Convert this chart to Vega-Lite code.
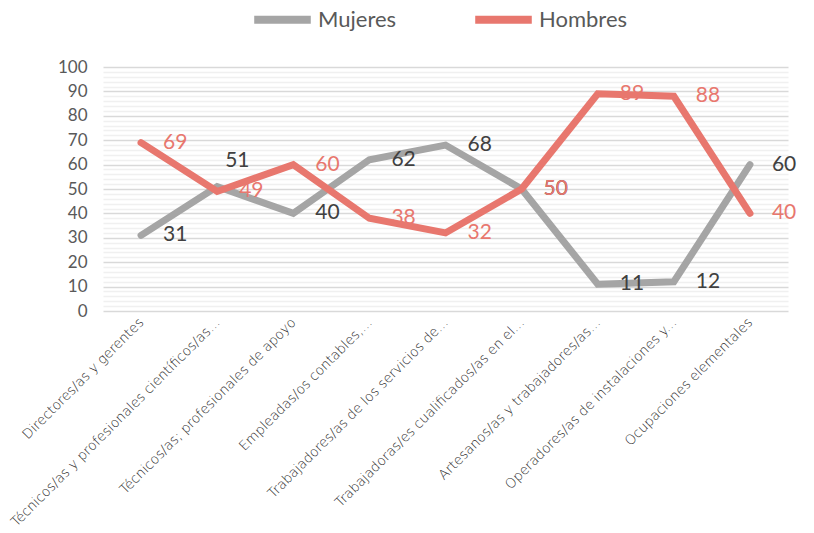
{
  "$schema": "https://vega.github.io/schema/vega-lite/v6.json",
  "width": 685,
  "height": 244,
  "autosize": {"type": "none"},
  "padding": {"left": 103, "top": 67, "right": 26, "bottom": 222},
  "background": "white",
  "config": {
    "view": {"stroke": null},
    "font": "Lato",
    "axis": {"labelFont": "Lato", "labelColor": "#595959"}
  },
  "data": {
    "values": [
      {"categoria": "Directores/as y gerentes", "sexo": "Mujeres", "valor": 31},
      {"categoria": "Técnicos/as  y profesionales científicos/as...", "sexo": "Mujeres", "valor": 51},
      {"categoria": "Técnicos/as; profesionales de apoyo", "sexo": "Mujeres", "valor": 40},
      {"categoria": "Empleadas/os contables,...", "sexo": "Mujeres", "valor": 62},
      {"categoria": "Trabajadores/as de los servicios de...", "sexo": "Mujeres", "valor": 68},
      {"categoria": "Trabajadoras/es cualificados/as en el...", "sexo": "Mujeres", "valor": 50},
      {"categoria": "Artesanos/as y trabajadores/as...", "sexo": "Mujeres", "valor": 11},
      {"categoria": "Operadores/as de instalaciones y...", "sexo": "Mujeres", "valor": 12},
      {"categoria": "Ocupaciones elementales", "sexo": "Mujeres", "valor": 60},
      {"categoria": "Directores/as y gerentes", "sexo": "Hombres", "valor": 69},
      {"categoria": "Técnicos/as  y profesionales científicos/as...", "sexo": "Hombres", "valor": 49},
      {"categoria": "Técnicos/as; profesionales de apoyo", "sexo": "Hombres", "valor": 60},
      {"categoria": "Empleadas/os contables,...", "sexo": "Hombres", "valor": 38},
      {"categoria": "Trabajadores/as de los servicios de...", "sexo": "Hombres", "valor": 32},
      {"categoria": "Trabajadoras/es cualificados/as en el...", "sexo": "Hombres", "valor": 50},
      {"categoria": "Artesanos/as y trabajadores/as...", "sexo": "Hombres", "valor": 89},
      {"categoria": "Operadores/as de instalaciones y...", "sexo": "Hombres", "valor": 88},
      {"categoria": "Ocupaciones elementales", "sexo": "Hombres", "valor": 40}
    ]
  },
  "encoding": {
    "x": {
      "field": "categoria",
      "type": "nominal",
      "sort": null,
      "scale": {"type": "point", "padding": 0.5},
      "axis": {
        "title": null,
        "labelAngle": -45,
        "labelAlign": "right",
        "labelBaseline": "middle",
        "labelFont": "DejaVu Sans",
        "labelFontWeight": 300,
        "labelFontSize": 13.5,
        "labelColor": "#2b2b2b",
        "labelLimit": 400,
        "labelPadding": 9,
        "ticks": false,
        "domain": false,
        "grid": false
      }
    },
    "y": {
      "field": "valor",
      "type": "quantitative",
      "scale": {"domain": [0, 100], "nice": false},
      "axis": {
        "title": null,
        "values": [0,2,4,6,8,10,12,14,16,18,20,22,24,26,28,30,32,34,36,38,40,42,44,46,48,50,52,54,56,58,60,62,64,66,68,70,72,74,76,78,80,82,84,86,88,90,92,94,96,98,100],
        "labelExpr": "datum.value % 10 === 0 ? datum.label : ''",
        "labelFontSize": 17,
        "labelPadding": 16,
        "ticks": false,
        "domain": false,
        "grid": true,
        "gridColor": {"condition": {"test": "datum.value % 10 === 0", "value": "#D9D9D9"}, "value": "#F0F0F0"},
        "gridWidth": 1.5
      }
    }
  },
  "layer": [
    {
      "transform": [{"filter": "datum.sexo === 'Mujeres'"}],
      "mark": {"type": "line", "strokeWidth": 7, "strokeCap": "round", "strokeJoin": "miter"},
      "encoding": {
        "color": {
          "field": "sexo",
          "type": "nominal",
          "scale": {"domain": ["Mujeres", "Hombres"], "range": ["#A5A5A5", "#E8776E"]},
          "legend": {
            "title": null,
            "orient": "none",
            "direction": "horizontal",
            "legendX": 147,
            "legendY": -80,
            "symbolType": "stroke",
            "symbolSize": 3200,
            "symbolStrokeWidth": 8,
            "labelFontSize": 22,
            "labelColor": "#595959",
            "labelFont": "Lato",
            "columnPadding": 62,
            "labelOffset": 3
          }
        }
      }
    },
    {
      "transform": [{"filter": "datum.sexo === 'Hombres'"}],
      "mark": {"type": "line", "strokeWidth": 7, "strokeCap": "round", "strokeJoin": "miter"},
      "encoding": {
        "color": {"field": "sexo", "type": "nominal"}
      }
    },
    {
      "transform": [{"filter": "datum.sexo === 'Mujeres' && datum.valor !== 51"}],
      "mark": {"type": "text", "align": "left", "baseline": "middle", "dx": 22, "fontSize": 21, "color": "#404040"},
      "encoding": {"text": {"field": "valor", "type": "quantitative"}}
    },
    {
      "transform": [{"filter": "datum.sexo === 'Mujeres' && datum.valor === 51"}],
      "mark": {"type": "text", "align": "left", "baseline": "middle", "dx": 8, "dy": -26, "fontSize": 21, "color": "#404040"},
      "encoding": {"text": {"field": "valor", "type": "quantitative"}}
    },
    {
      "transform": [{"filter": "datum.sexo === 'Hombres'"}],
      "mark": {"type": "text", "align": "left", "baseline": "middle", "dx": 22, "fontSize": 21, "color": "#E8776E"},
      "encoding": {"text": {"field": "valor", "type": "quantitative"}}
    }
  ]
}
